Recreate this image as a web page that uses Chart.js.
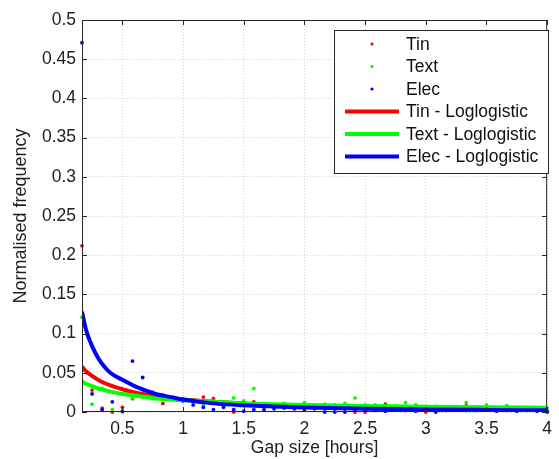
<!DOCTYPE html>
<html>
<head>
<meta charset="utf-8">
<script src="https://cdn.jsdelivr.net/npm/chart.js@4/dist/chart.umd.min.js"></script>
<style>
  html, body { margin: 0; padding: 0; background: #fff; }
  #wrap { width: 559px; height: 459px; }
</style>
</head>
<body>
<div id="wrap"><canvas id="chart" width="559" height="459"></canvas></div>
<script>
// gap sizes in hours (5 minute bins)
const gapHours = [0.167, 0.25, 0.333, 0.417, 0.5, 0.583, 0.667, 0.75, 0.833, 0.917, 1,
  1.083, 1.167, 1.25, 1.333, 1.417, 1.5, 1.583, 1.667, 1.75, 1.833, 1.917, 2,
  2.083, 2.167, 2.25, 2.333, 2.417, 2.5, 2.583, 2.667, 2.75, 2.833, 2.917, 3,
  3.083, 3.167, 3.25, 3.333, 3.417, 3.5, 3.583, 3.667, 3.75, 3.833, 3.917, 4];

const tinFreq = [0.212, 0.028, 0.005, 0, 0.006, 0.017, 0.02, 0.021, 0.011, 0.017, 0.016,
  0.015, 0.019, 0.017, 0.012, 0, 0.010, 0.013, 0.008, 0.009, 0.008, 0.008, 0.007,
  0.008, 0.006, 0.007, 0.006, 0, 0, 0.006, 0.010, 0.006, 0.005, 0.005, 0,
  0.005, 0.004, 0.004, 0.008, 0.004, 0.004, 0.004, 0.003, 0.003, 0.003, 0.003, 0.001];

const textFreq = [0.121, 0.010, 0.030, 0.003, 0, 0.018, 0.019, 0.017, 0.022, 0.019, 0.016,
  0.015, 0.008, 0.014, 0.013, 0.018, 0.014, 0.030, 0.011, 0.010, 0.011, 0.009, 0.012,
  0.008, 0.010, 0.009, 0.011, 0.018, 0.009, 0.009, 0.007, 0.008, 0.012, 0.009, 0.006,
  0.007, 0.006, 0.007, 0.012, 0.006, 0.009, 0.006, 0.008, 0.005, 0.005, 0.005, 0.005];

const elecFreq = [0.471, 0.023, 0.003, 0.013, 0.001, 0.065, 0.044, 0.025, 0.017, 0.018, 0.014,
  0.009, 0.006, 0.003, 0.006, 0.003, 0.001, 0.003, 0.003, 0.004, 0.005, 0.004, 0.003,
  0.004, 0, 0, 0, 0.002, 0.003, 0.002, 0.001, 0.003, 0.002, 0.001, 0.003,
  0, 0.002, 0.003, 0.002, 0.002, 0.003, 0.001, 0.002, 0.001, 0.002, 0.001, 0];

// fitted loglogistic curves
const fitHours = [0.167, 0.2, 0.25, 0.3, 0.35, 0.4, 0.5, 0.6, 0.7, 0.8, 0.9, 1.0,
  1.25, 1.5, 1.75, 2, 2.5, 3, 3.5, 4];
const tinFit = [0.058, 0.052, 0.046, 0.041, 0.037, 0.034, 0.029, 0.025, 0.022, 0.019, 0.017, 0.016,
  0.013, 0.011, 0.009, 0.008, 0.0065, 0.0055, 0.0048, 0.0042];
const textFit = [0.039, 0.036, 0.033, 0.030, 0.028, 0.026, 0.023, 0.021, 0.019, 0.017, 0.016, 0.015,
  0.013, 0.011, 0.010, 0.009, 0.0078, 0.0068, 0.006, 0.0054];
const elecFit = [0.128, 0.105, 0.084, 0.069, 0.058, 0.050, 0.041, 0.033, 0.027, 0.022, 0.019, 0.016,
  0.011, 0.0085, 0.007, 0.0058, 0.0042, 0.0033, 0.0027, 0.0022];

const xTicks = [0.5, 1, 1.5, 2, 2.5, 3, 3.5, 4];
const yTicks = [0, 0.05, 0.1, 0.15, 0.2, 0.25, 0.3, 0.35, 0.4, 0.45, 0.5];

const FONT = "'Liberation Sans', Arial, sans-serif";
const FS = 17.5;
const toXY = (xs, ys) => xs.map((x, i) => ({ x: x, y: ys[i] }));

function dots(label, ys, color, order) {
  return { label, data: toXY(gapHours, ys), showLine: false, pointRadius: 1.9,
    pointBorderWidth: 0, backgroundColor: color, borderColor: color, order, clip: 4 };
}
function fit(label, ys, color, order) {
  return { label, data: toXY(fitHours, ys), showLine: true, pointRadius: 0,
    borderWidth: 4, borderColor: color, backgroundColor: color,
    cubicInterpolationMode: "monotone", order };
}

// MATLAB-like box, inward ticks and legend
const boxPlugin = {
  id: "box",
  afterDraw(chart) {
    const { ctx, chartArea: a, scales } = chart;
    ctx.save();
    ctx.strokeStyle = "#262626";
    ctx.lineWidth = 1;
    ctx.strokeRect(a.left + 0.5, a.top + 0.5, a.right - a.left - 1, a.bottom - a.top - 1);
    ctx.beginPath();
    xTicks.forEach((v) => {
      const px = Math.round(scales.x.getPixelForValue(v)) + 0.5;
      ctx.moveTo(px, a.bottom); ctx.lineTo(px, a.bottom - 5);
      ctx.moveTo(px, a.top); ctx.lineTo(px, a.top + 5);
    });
    yTicks.forEach((v) => {
      const py = Math.round(scales.y.getPixelForValue(v)) + 0.5;
      ctx.moveTo(a.left, py); ctx.lineTo(a.left + 5, py);
      ctx.moveTo(a.right, py); ctx.lineTo(a.right - 5, py);
    });
    ctx.stroke();

    // legend
    const lx = 334, ly = 30, lw = 214, lh = 143;
    ctx.fillStyle = "#fff";
    ctx.fillRect(lx, ly, lw, lh);
    ctx.strokeStyle = "#262626";
    ctx.strokeRect(lx + 0.5, ly + 0.5, lw, lh);
    ctx.font = FS + "px " + FONT;
    ctx.textBaseline = "middle";
    chart.data.datasets.forEach((ds, i) => {
      const y = ly + 14 + i * 22.5;
      if (ds.showLine) {
        ctx.strokeStyle = ds.borderColor;
        ctx.lineWidth = 4;
        ctx.beginPath(); ctx.moveTo(345, y); ctx.lineTo(399, y); ctx.stroke();
      } else {
        ctx.fillStyle = ds.backgroundColor;
        ctx.beginPath(); ctx.arc(372, y, 1.6, 0, Math.PI * 2); ctx.fill();
      }
      ctx.fillStyle = "#111";
      ctx.fillText(ds.label, 406, y + 1);
    });
    ctx.restore();
  }
};

new Chart(document.getElementById("chart"), {
  type: "scatter",
  data: {
    datasets: [
      dots("Tin", tinFreq, "#ff0000", 5),
      dots("Text", textFreq, "#00ff00", 4),
      dots("Elec", elecFreq, "#0000ff", 3),
      fit("Tin - Loglogistic", tinFit, "#ff0000", 2),
      fit("Text - Loglogistic", textFit, "#00ff00", 1),
      fit("Elec - Loglogistic", elecFit, "#0000ff", 0),
    ],
  },
  options: {
    responsive: false,
    animation: false,
    layout: { padding: { top: 20, right: 3, left: 0, bottom: 0 } },
    plugins: { legend: { display: false }, tooltip: { enabled: false } },
    scales: {
      x: {
        type: "linear", min: 0.167, max: 4,
        afterBuildTicks: (s) => { s.ticks = xTicks.map((v) => ({ value: v })); },
        afterFit: (s) => { s.height = 47; },
        ticks: { font: { family: FONT, size: FS }, color: "#222", padding: 7, maxRotation: 0,
          callback: (v) => String(v) },
        grid: { color: "#d4d4d4", drawTicks: false },
        border: { display: false, dash: [1, 2] },
        title: { display: true, text: "Gap size [hours]", font: { family: FONT, size: FS },
          color: "#222", padding: { top: 3, bottom: 0 } },
      },
      y: {
        min: 0, max: 0.5,
        afterBuildTicks: (s) => { s.ticks = yTicks.map((v) => ({ value: v })); },
        afterFit: (s) => { s.width = 82; },
        ticks: { font: { family: FONT, size: FS }, color: "#222", padding: 6,
          callback: (v) => String(v) },
        grid: { color: "#d4d4d4", drawTicks: false },
        border: { display: false, dash: [1, 2] },
        title: { display: true, text: "Normalised frequency", font: { family: FONT, size: 18 },
          color: "#222", padding: { top: 10, bottom: 0 } },
      },
    },
  },
  plugins: [boxPlugin],
});
</script>
</body>
</html>
